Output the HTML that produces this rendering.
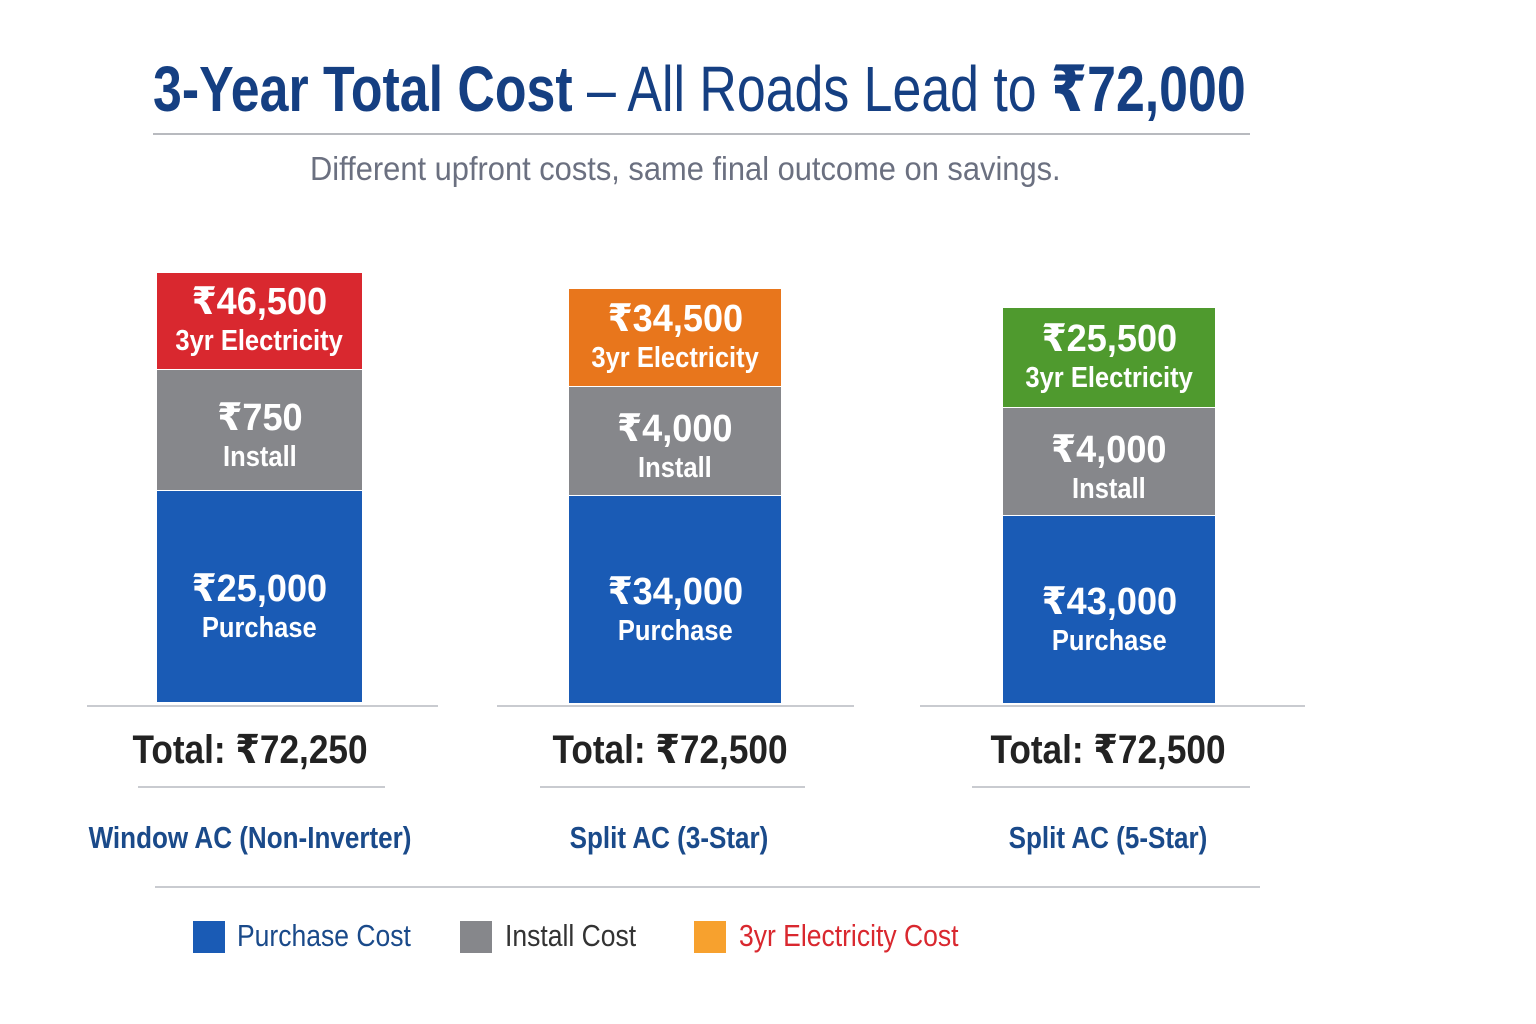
<!DOCTYPE html>
<html><head><meta charset="utf-8"><style>
body{margin:0;width:1536px;height:1024px;background:#fff;position:relative;overflow:hidden;font-family:"Liberation Sans","DejaVu Sans",sans-serif}
.a{position:absolute}
.t{white-space:nowrap}
.seg{position:absolute;color:#fff;text-align:center;font-weight:bold;display:flex;flex-direction:column;justify-content:center;align-items:center;box-sizing:border-box}
.seg .v{font-size:38px;line-height:40px;transform:scaleX(0.95);white-space:nowrap}
.seg .l{font-size:29px;line-height:38px;transform:scaleX(0.88);white-space:nowrap}
.g{padding-top:14px}
.b{padding-top:22px}
.hl{position:absolute;height:2px;background:#c9cbd0}
.tot{position:absolute;font-size:40px;font-weight:bold;color:#222;text-align:center;white-space:nowrap;transform:scaleX(0.88)}
.lab{position:absolute;font-size:31px;color:#1a4a8a;font-weight:bold;text-align:center;white-space:nowrap;transform:scaleX(0.84)}
.lg{position:absolute;width:32px;height:32px;top:921px}
.lt{position:absolute;top:918px;font-size:31px;white-space:nowrap;transform:scaleX(0.855);transform-origin:left}
</style></head><body>
<div class="a t" style="left:153px;top:52px;font-size:64px;color:#153f82;transform-origin:left;transform:scaleX(0.81)"><b>3-Year Total Cost</b> <span style="font-weight:normal">– All Roads Lead to </span><b>₹72,000</b></div>
<div class="hl" style="left:153px;top:133px;width:1097px;background:#b8babf"></div>
<div class="a t" style="left:310px;top:150px;font-size:33px;color:#6b7080;transform-origin:left;transform:scaleX(0.935)">Different upfront costs, same final outcome on savings.</div>

<div class="seg" style="left:157px;top:273px;width:205px;height:96px;background:#d9282f"><div class="v">₹46,500</div><div class="l">3yr Electricity</div></div>
<div class="seg g" style="left:157px;top:370px;width:205px;height:120px;background:#86878b"><div class="v">₹750</div><div class="l">Install</div></div>
<div class="seg b" style="left:157px;top:491px;width:205px;height:211px;background:#1a5bb5"><div class="v">₹25,000</div><div class="l">Purchase</div></div>

<div class="seg" style="left:569px;top:289px;width:212px;height:97px;background:#e8761c"><div class="v">₹34,500</div><div class="l">3yr Electricity</div></div>
<div class="seg g" style="left:569px;top:387px;width:212px;height:108px;background:#86878b"><div class="v">₹4,000</div><div class="l">Install</div></div>
<div class="seg b" style="left:569px;top:496px;width:212px;height:207px;background:#1a5bb5"><div class="v">₹34,000</div><div class="l">Purchase</div></div>

<div class="seg" style="left:1003px;top:308px;width:212px;height:99px;background:#4f9a2e"><div class="v">₹25,500</div><div class="l">3yr Electricity</div></div>
<div class="seg g" style="left:1003px;top:408px;width:212px;height:107px;background:#86878b"><div class="v">₹4,000</div><div class="l">Install</div></div>
<div class="seg b" style="left:1003px;top:516px;width:212px;height:187px;background:#1a5bb5"><div class="v">₹43,000</div><div class="l">Purchase</div></div>

<div class="hl" style="left:87px;top:705px;width:351px"></div>
<div class="hl" style="left:497px;top:705px;width:357px"></div>
<div class="hl" style="left:920px;top:705px;width:385px"></div>

<div class="tot" style="left:100px;top:727px;width:300px">Total: ₹72,250</div>
<div class="tot" style="left:520px;top:727px;width:300px">Total: ₹72,500</div>
<div class="tot" style="left:958px;top:727px;width:300px">Total: ₹72,500</div>

<div class="hl" style="left:138px;top:786px;width:247px"></div>
<div class="hl" style="left:540px;top:786px;width:265px"></div>
<div class="hl" style="left:972px;top:786px;width:278px"></div>

<div class="lab" style="left:50px;top:820px;width:400px">Window AC (Non-Inverter)</div>
<div class="lab" style="left:469px;top:820px;width:400px">Split AC (3-Star)</div>
<div class="lab" style="left:908px;top:820px;width:400px">Split AC (5-Star)</div>

<div class="hl" style="left:155px;top:886px;width:1105px"></div>

<div class="lg" style="left:193px;background:#1a5bb5"></div>
<div class="lt" style="left:237px;color:#1a4a8a">Purchase Cost</div>
<div class="lg" style="left:460px;background:#86878b"></div>
<div class="lt" style="left:505px;color:#333">Install Cost</div>
<div class="lg" style="left:694px;background:#f7a12e"></div>
<div class="lt" style="left:739px;color:#d9282f">3yr Electricity Cost</div>
</body></html>
